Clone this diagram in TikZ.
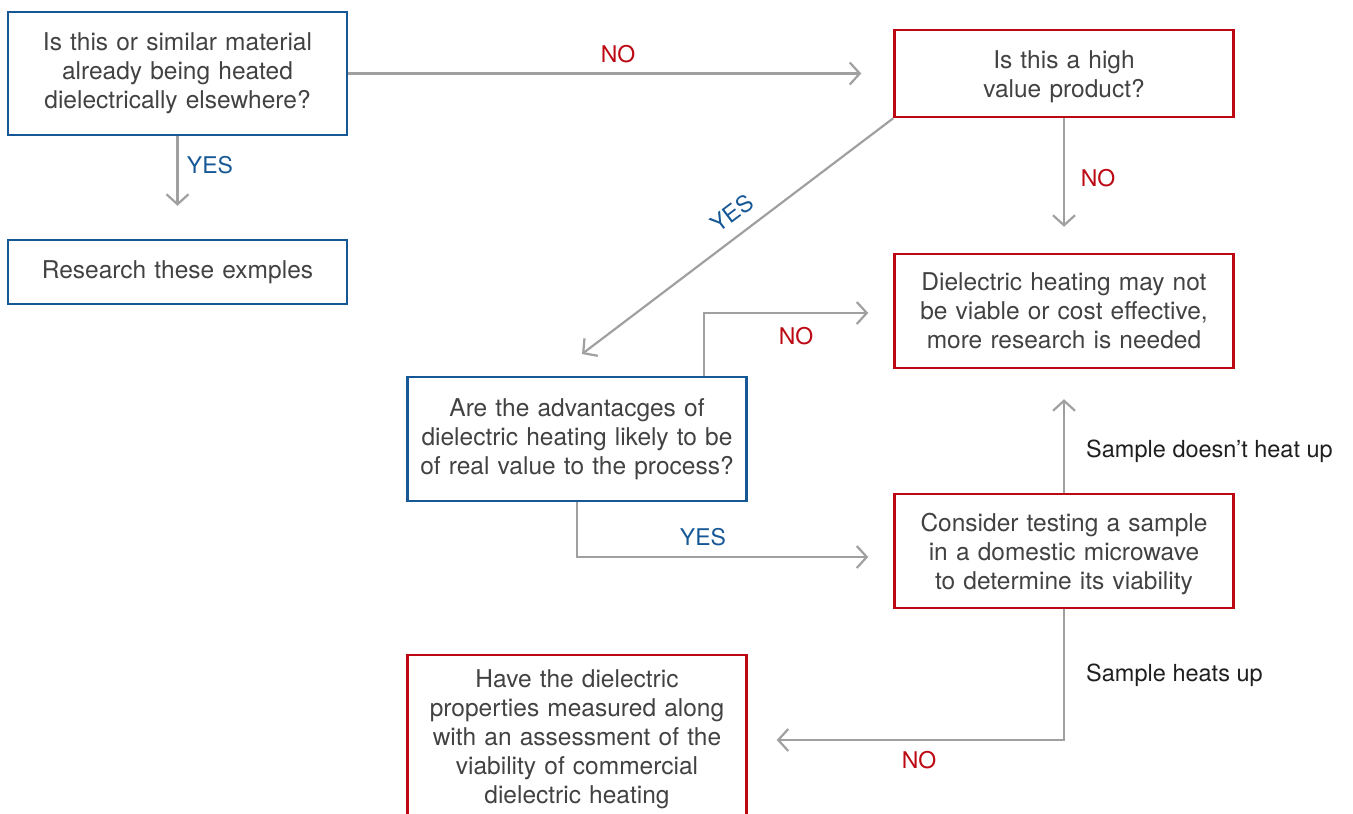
\documentclass[tikz,border=0pt]{standalone}
\usepackage{fontspec}
\setmainfont{TeX Gyre Heros}
\usetikzlibrary{arrows.meta, positioning}

\definecolor{boxblue}{RGB}{22,88,150}
\definecolor{boxred}{RGB}{188,8,18}
\definecolor{linegray}{RGB}{160,160,160}
\definecolor{textgray}{RGB}{66,66,66}

\tikzset{
  qbox/.style={draw, line width=2.5pt, minimum width=339pt, text width=335pt,
    align=center, inner sep=0pt, text=textgray, font=\fontsize{24.5}{29}\selectfont},
  bluebox/.style={qbox, draw=boxblue},
  redbox/.style={qbox, draw=boxred},
  flow/.style={draw=linegray, line width=2.2pt,
    -{Straight Barb[length=10pt, width=22pt, line width=2.2pt]}},
  yeslbl/.style={text=boxblue, inner sep=0pt, font=\fontsize{23}{27}\selectfont},
  nolbl/.style={text=boxred, inner sep=0pt, font=\fontsize{23}{27}\selectfont},
  notelbl/.style={text=black!88, anchor=base west, inner sep=0pt,
    font=\fontsize{23.5}{28}\selectfont}
}

\begin{document}
\begin{tikzpicture}[x=1pt, y=-1pt]
    % --- Page frame ---
    \clip (0,0) rectangle (1353,814);

    % --- Left column ---
    \node[bluebox, minimum height=123pt] (known) at (177.5,73.5)
        {Is this or similar material\\ already being heated\\ dielectrically elsewhere?};
    \node[bluebox, minimum height=64pt] (research) at (177.5,272)
        {Research these exmples};

    % --- Right column ---
    \node[redbox, minimum height=87pt] (highval) at (1064,73.5)
        {\rule{0pt}{24pt}Is this a high\\ value product?};
    \node[redbox, minimum height=114pt] (notviable) at (1064,311)
        {Dielectric heating may not\\ be viable or cost effective,\\ more research is needed};
    \node[redbox, minimum height=114pt] (testing) at (1064,551)
        {\rule{0pt}{24pt}Consider testing a sample\\ in a domestic microwave\\ to determine its viability};

    % --- Middle column ---
    \node[bluebox, minimum height=124pt] (advant) at (577,439)
        {Are the advantacges of\\ dielectric heating likely to be\\ of real value to the process?};
    \node[redbox, minimum height=164pt] (measure) at (577,737)
        {\rule{0pt}{22pt}Have the dielectric\\ properties measured along\\ with an assessment of the\\ viability of commercial\\ dielectric heating};

    % --- Connectors ---
    \coordinate (yesend) at (582,354);
    \draw[flow, shorten >=32pt] (known) -- (highval);
    \draw[flow, shorten >=33pt] (known) -- (research);
    \draw[flow] (highval.south west) -- (yesend);
    \draw[flow, shorten >=26pt] (highval) -- (notviable);
    \draw[flow, shorten >=25pt] ([xshift=127pt]advant.north) |- ([yshift=-2pt]notviable.west);
    \draw[flow, shorten >=25pt] (advant.south) |- ([yshift=-6pt]testing.west);
    \draw[flow, shorten >=30pt] (testing) -- (notviable);
    \draw[flow, shorten >=29pt] (testing.south) |- ([yshift=-3pt]measure.east);

    % --- Answers ---
    \node[nolbl] (noknown) at (618,54) {NO};
    \node[yeslbl] (yesknown) at (210,165) {YES};
    \node[yeslbl, rotate=37] (yeshigh) at (732,213) {YES};
    \node[nolbl] (nohigh) at (1098,178) {NO};
    \node[nolbl] (noadv) at (796,336) {NO};
    \node[yeslbl] (yesadv) at (703,537) {YES};
    \node[notelbl] (coldnote) at (1086,457) {Sample doesn’t heat up};
    \node[notelbl] (hotnote) at (1086,681) {Sample heats up};
    \node[nolbl] (notest) at (919,760) {NO};

\end{tikzpicture}
\end{document}
